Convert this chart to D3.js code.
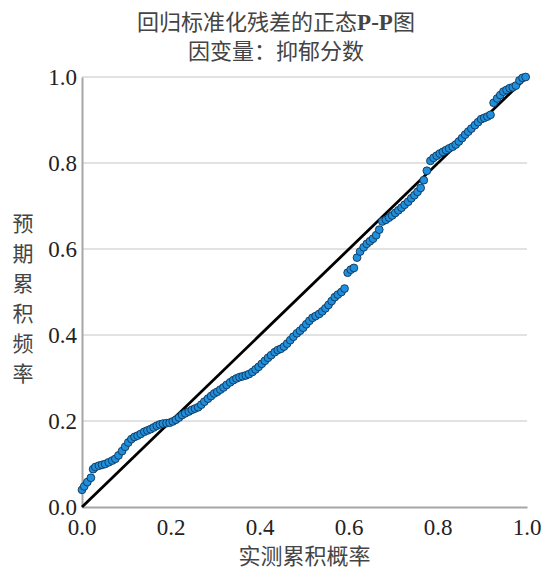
<!DOCTYPE html>
<html><head><meta charset="utf-8">
<script src="https://cdn.jsdelivr.net/npm/d3@7"></script>
<style>body{margin:0;background:#fff}</style>
</head><body>
<svg id="c" width="545" height="570"></svg>
<script>
const titleLines = [["回归标准化残差的正态", "P-P", "图"], ["因变量：抑郁分数", "", ""]];
const xLabel = "实测累积概率";
const yLabel = "预期累积频率";
const ticks = [0, 0.2, 0.4, 0.6, 0.8, 1.0];
const observed = [0.000,0.005,0.012,0.020,0.025,0.030,0.038,0.045,0.052,0.060,0.068,0.075,0.082,0.090,0.097,0.104,0.111,0.118,0.125,0.132,0.140,0.147,0.154,0.161,0.168,0.175,0.182,0.190,0.197,0.204,0.211,0.218,0.225,0.232,0.240,0.247,0.254,0.261,0.268,0.275,0.283,0.290,0.297,0.304,0.311,0.318,0.325,0.333,0.340,0.347,0.354,0.361,0.368,0.375,0.383,0.390,0.397,0.404,0.411,0.418,0.425,0.433,0.440,0.447,0.454,0.461,0.468,0.475,0.483,0.490,0.497,0.504,0.511,0.518,0.525,0.533,0.540,0.547,0.554,0.561,0.568,0.575,0.583,0.590,0.597,0.604,0.611,0.618,0.625,0.633,0.640,0.647,0.654,0.661,0.668,0.675,0.683,0.690,0.697,0.704,0.711,0.718,0.725,0.733,0.740,0.747,0.754,0.761,0.768,0.775,0.783,0.790,0.797,0.804,0.811,0.818,0.825,0.833,0.840,0.847,0.854,0.861,0.868,0.875,0.883,0.890,0.897,0.904,0.911,0.918,0.925,0.933,0.940,0.947,0.954,0.961,0.968,0.975,0.983,0.990,0.997];
const expected = [0.040,0.048,0.058,0.068,0.088,0.093,0.096,0.098,0.100,0.104,0.108,0.112,0.120,0.130,0.140,0.150,0.158,0.163,0.166,0.170,0.175,0.178,0.181,0.185,0.189,0.192,0.194,0.195,0.196,0.199,0.203,0.208,0.214,0.218,0.222,0.226,0.229,0.232,0.238,0.245,0.252,0.258,0.264,0.268,0.273,0.278,0.284,0.290,0.295,0.299,0.302,0.304,0.306,0.309,0.314,0.320,0.326,0.333,0.340,0.347,0.353,0.360,0.365,0.368,0.373,0.380,0.388,0.396,0.404,0.410,0.417,0.425,0.433,0.440,0.444,0.449,0.455,0.462,0.470,0.479,0.488,0.494,0.500,0.508,0.545,0.552,0.556,0.580,0.594,0.604,0.612,0.618,0.624,0.632,0.645,0.664,0.668,0.673,0.678,0.684,0.690,0.696,0.703,0.710,0.718,0.725,0.733,0.742,0.760,0.782,0.805,0.812,0.817,0.822,0.826,0.830,0.834,0.838,0.843,0.850,0.858,0.866,0.873,0.880,0.888,0.895,0.902,0.905,0.908,0.912,0.940,0.950,0.958,0.966,0.970,0.974,0.976,0.980,0.992,0.998,1.000];

const svg = d3.select("#c");
const L = 82, R = 527, T = 77, B = 507;
const x = d3.scaleLinear().domain([0, 1]).range([L, R]);
const y = d3.scaleLinear().domain([0, 1]).range([B, T]);
const cjk = "Noto Sans CJK SC";
const serif = "Liberation Serif";
const fmt = d3.format(".1f");

// gridlines
svg.append("g").selectAll("line").data(ticks.slice(1)).join("line")
  .attr("x1", L).attr("x2", R).attr("y1", d => y(d)).attr("y2", d => y(d))
  .attr("stroke", "#d9d9d9").attr("stroke-width", 1.3);

// axes (lines only)
const xa = svg.append("g").attr("transform", `translate(0,${B})`)
  .call(d3.axisBottom(x).tickValues([]).tickSizeOuter(0));
const ya = svg.append("g").attr("transform", `translate(${L},0)`)
  .call(d3.axisLeft(y).tickValues([]).tickSizeOuter(0));
[xa, ya].forEach(a => a.select(".domain").attr("stroke", "#a6a6a6").attr("stroke-width", 2));

// tick labels
svg.append("g").selectAll("text").data(ticks).join("text")
  .attr("x", d => x(d)).attr("y", B + 28).attr("text-anchor", "middle")
  .attr("font-family", serif).attr("font-size", 23).attr("fill", "#222").text(fmt);
svg.append("g").selectAll("text").data(ticks).join("text")
  .attr("x", L - 5).attr("y", d => y(d) + 8).attr("text-anchor", "end")
  .attr("font-family", serif).attr("font-size", 23).attr("fill", "#222").text(fmt);

// reference line
svg.append("line").attr("x1", x(0)).attr("y1", y(0)).attr("x2", x(1)).attr("y2", y(1))
  .attr("stroke", "#000").attr("stroke-width", 2.8);

// points
svg.append("g").selectAll("circle").data(observed.map((o, i) => [o, expected[i]])).join("circle")
  .attr("cx", d => x(d[0])).attr("cy", d => y(d[1])).attr("r", 3.9)
  .attr("fill", "#1f8fdc").attr("stroke", "#10355a").attr("stroke-width", 0.9);

// titles
const tt = svg.append("g").selectAll("text").data(titleLines).join("text")
  .attr("x", 276).attr("y", (d, i) => 30 + i * 29).attr("text-anchor", "middle")
  .attr("font-family", cjk).attr("font-size", 22).attr("fill", "#444");
tt.append("tspan").text(d => d[0]);
tt.append("tspan").attr("font-family", serif).attr("font-weight", 700).attr("font-size", 23).text(d => d[1]);
tt.append("tspan").text(d => d[2]);

svg.append("text").attr("x", (L + R) / 2).attr("y", 564).attr("text-anchor", "middle")
  .attr("font-family", cjk).attr("font-size", 22).attr("fill", "#444").text(xLabel);

svg.append("g").selectAll("text").data(Array.from(yLabel)).join("text")
  .attr("x", 23).attr("y", (d, i) => 231 + i * 30).attr("text-anchor", "middle")
  .attr("font-family", cjk).attr("font-size", 21).attr("fill", "#444").text(d => d);
</script>
</body></html>
